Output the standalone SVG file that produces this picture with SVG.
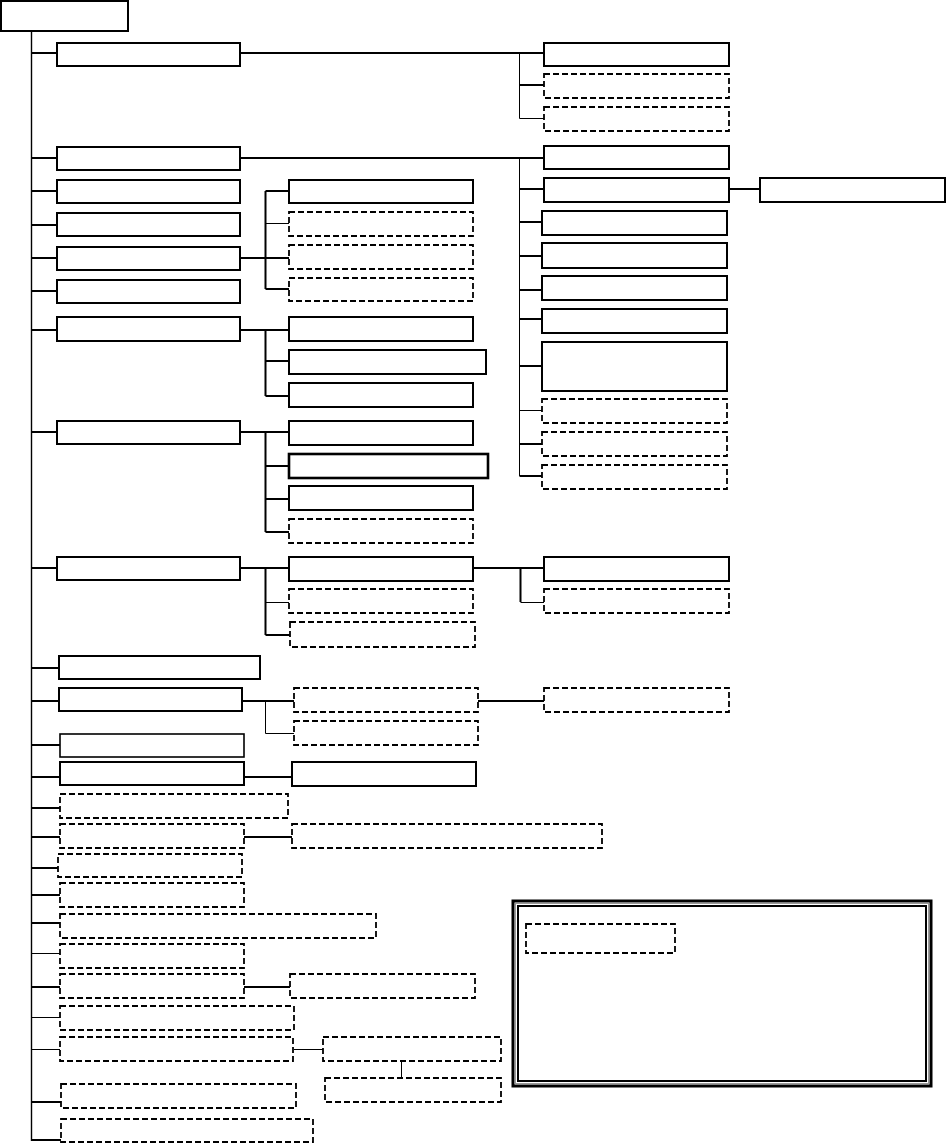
<svg xmlns="http://www.w3.org/2000/svg" width="946" height="1144" viewBox="0 0 946 1144">
<style>
.s{fill:#fff;stroke:#000;stroke-width:2}
.d{fill:#fff;stroke:#000;stroke-width:1.8;stroke-dasharray:6 3}
.c{fill:none;stroke:#000;stroke-width:2}
.t{fill:none;stroke:#000;stroke-width:1}
</style>
<rect width="946" height="1144" fill="#fff"/>
<g id="connectors">
<path class="c" d="M31.5 31V1141" style="stroke-width:1.4"/>
<path class="c" d="M31.5 53H57M31.5 158H57M31.5 191H57M31.5 225H57M31.5 258H57M31.5 291H57M31.5 330H57M31.5 432H57M31.5 568H57M31.5 668H59M31.5 701H59M31.5 745H60M31.5 777H60M31.5 808H60M31.5 837H60M31.5 868H58M31.5 895H60M31.5 923H60M31.5 987H60M31.5 1102H61M31.5 1140H61"/>
<path class="t" d="M31.5 953.5H60M31.5 1017.5H60M31.5 1049.5H60"/>
<path class="c" d="M240 53H544M519.5 85H544"/>
<path class="t" d="M519.5 53V118.5H544"/>
<path class="c" d="M240 158H544M519.5 189H544M519.5 222H542M519.5 256H542M519.5 290H542M519.5 319H542M519.5 366H542M519.5 444H542M519.5 476H542M729 189H760"/>
<path class="t" d="M519.5 158V476M519.5 410.5H542"/>
<path class="c" d="M240 258H289M265.5 191V289M265.5 191H289M265.5 289H289"/>
<path class="t" d="M265.5 223.5H289"/>
<path class="c" d="M240 330H289M265.5 330V396M265.5 361H289M265.5 396H289"/>
<path class="c" d="M240 432H289M265.5 432V532M265.5 466H289M265.5 499H289M265.5 532H289"/>
<path class="c" d="M240 568H289M265.5 568V635M265.5 635H290"/>
<path class="t" d="M265.5 602.5H289"/>
<path class="c" d="M473 568H544M520.5 568V602"/>
<path class="t" d="M520.5 602.5H544"/>
<path class="c" d="M242 701H294M478 701H544"/>
<path class="t" d="M265.5 701V733.5H294"/>
<path class="c" d="M244 777H292M244 837H292M244 987H290"/>
<path class="t" d="M294 1049.5H323M401.5 1061V1078"/>
</g>
<g id="root"><rect class="s" x="1" y="1" width="127" height="30"/></g>
<g id="n1"><rect class="s" x="57" y="43" width="183" height="23"/></g>
<g id="n2"><rect class="s" x="57" y="147" width="183" height="23"/></g>
<g id="n3"><rect class="s" x="57" y="180" width="183" height="23"/></g>
<g id="n4"><rect class="s" x="57" y="213" width="183" height="23"/></g>
<g id="n5"><rect class="s" x="57" y="247" width="183" height="23"/></g>
<g id="n6"><rect class="s" x="57" y="280" width="183" height="23"/></g>
<g id="n7"><rect class="s" x="57" y="317" width="183" height="24"/></g>
<g id="n8"><rect class="s" x="57" y="421" width="183" height="23"/></g>
<g id="n9"><rect class="s" x="57" y="557" width="183" height="23"/></g>
<g id="n10"><rect class="s" x="59" y="656" width="201" height="23"/></g>
<g id="n11"><rect class="s" x="59" y="688" width="183" height="23"/></g>
<g id="n12"><rect class="s" x="60" y="734" width="184" height="23" style="stroke-width:1.6"/></g>
<g id="n13"><rect class="s" x="60" y="762" width="184" height="23"/></g>
<g id="n14"><rect class="d" x="60" y="794" width="228" height="24"/></g>
<g id="n15"><rect class="d" x="60" y="824" width="184" height="24"/></g>
<g id="n16"><rect class="d" x="58" y="854" width="184" height="23"/></g>
<g id="n17"><rect class="d" x="60" y="883" width="184" height="24"/></g>
<g id="n18"><rect class="d" x="60" y="914" width="316" height="24"/></g>
<g id="n19"><rect class="d" x="60" y="944" width="184" height="24"/></g>
<g id="n20"><rect class="d" x="60" y="974" width="184" height="24"/></g>
<g id="n21"><rect class="d" x="60" y="1006" width="234" height="24"/></g>
<g id="n22"><rect class="d" x="60" y="1037" width="233" height="24"/></g>
<g id="n23"><rect class="d" x="61" y="1084" width="235" height="24"/></g>
<g id="n24"><rect class="d" x="61" y="1119" width="252" height="23"/></g>
<g id="n4a"><rect class="s" x="289" y="180" width="184" height="23"/></g>
<g id="n4b"><rect class="d" x="289" y="212" width="184" height="24"/></g>
<g id="n4c"><rect class="d" x="289" y="245" width="184" height="24"/></g>
<g id="n4d"><rect class="d" x="289" y="278" width="184" height="23"/></g>
<g id="n7a"><rect class="s" x="289" y="317" width="184" height="24"/></g>
<g id="n7b"><rect class="s" x="289" y="350" width="197" height="24"/></g>
<g id="n7c"><rect class="s" x="289" y="383" width="184" height="24"/></g>
<g id="n8a"><rect class="s" x="289" y="421" width="184" height="24"/></g>
<g id="n8b"><rect class="s" x="289" y="454" width="199" height="24" style="stroke-width:2.6"/></g>
<g id="n8c"><rect class="s" x="289" y="486" width="184" height="24"/></g>
<g id="n8d"><rect class="d" x="289" y="519" width="184" height="24"/></g>
<g id="n9a"><rect class="s" x="289" y="557" width="184" height="24"/></g>
<g id="n9b"><rect class="d" x="289" y="589" width="184" height="24"/></g>
<g id="n9c"><rect class="d" x="290" y="622" width="185" height="25"/></g>
<g id="n9a1"><rect class="s" x="544" y="557" width="185" height="24"/></g>
<g id="n9a2"><rect class="d" x="544" y="589" width="185" height="24"/></g>
<g id="n11a"><rect class="d" x="294" y="688" width="184" height="24"/></g>
<g id="n11b"><rect class="d" x="294" y="721" width="184" height="24"/></g>
<g id="n11a1"><rect class="d" x="544" y="688" width="185" height="24"/></g>
<g id="n13a"><rect class="s" x="292" y="762" width="184" height="24"/></g>
<g id="n15a"><rect class="d" x="292" y="824" width="310" height="24"/></g>
<g id="n20a"><rect class="d" x="290" y="974" width="185" height="24"/></g>
<g id="n22a"><rect class="d" x="323" y="1037" width="178" height="24"/></g>
<g id="n22b"><rect class="d" x="325" y="1078" width="176" height="24"/></g>
<g id="a1"><rect class="s" x="544" y="43" width="185" height="23"/></g>
<g id="a2"><rect class="d" x="544" y="74" width="185" height="24"/></g>
<g id="a3"><rect class="d" x="544" y="107" width="185" height="24"/></g>
<g id="b1"><rect class="s" x="544" y="146" width="185" height="23"/></g>
<g id="b2"><rect class="s" x="544" y="178" width="185" height="24"/></g>
<g id="b2a"><rect class="s" x="760" y="178" width="185" height="24"/></g>
<g id="b3"><rect class="s" x="542" y="211" width="185" height="24"/></g>
<g id="b4"><rect class="s" x="542" y="243" width="185" height="25"/></g>
<g id="b5"><rect class="s" x="542" y="276" width="185" height="24"/></g>
<g id="b6"><rect class="s" x="542" y="309" width="185" height="24"/></g>
<g id="b7"><rect class="s" x="542" y="342" width="185" height="49"/></g>
<g id="b8"><rect class="d" x="542" y="399" width="185" height="24"/></g>
<g id="b9"><rect class="d" x="542" y="432" width="185" height="24"/></g>
<g id="b10"><rect class="d" x="542" y="465" width="185" height="24"/></g>
<g id="legend">
<rect x="513" y="901" width="418" height="185" fill="#fff" stroke="#000" stroke-width="3"/>
<rect x="515.5" y="903.5" width="413" height="180" fill="none" stroke="#999" stroke-width="1"/>
<rect x="518" y="906" width="408" height="175" fill="none" stroke="#000" stroke-width="2"/>
<rect class="d" x="526" y="924" width="149" height="29"/>
</g>
</svg>
